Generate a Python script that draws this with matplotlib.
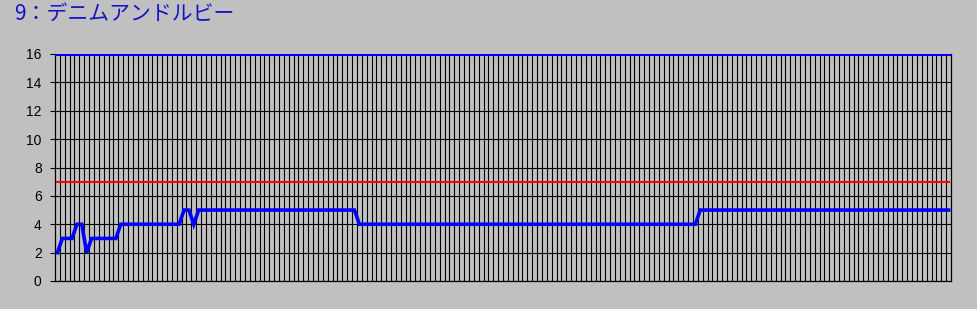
#!/usr/bin/env python
# Chart of the running position for horse 9 (デニムアンドルビー)
import numpy as np
import matplotlib.pyplot as plt

title = "9：デニムアンドルビー"

# position at each sample point
position = [
    2, 3, 3, 3, 4, 4, 2, 3, 3, 3, 3, 3, 3, 4, 4, 4, 4, 4, 4, 4,
    4, 4, 4, 4, 4, 4, 5, 5, 4, 5, 5, 5, 5, 5, 5, 5, 5, 5, 5, 5,
    5, 5, 5, 5, 5, 5, 5, 5, 5, 5, 5, 5, 5, 5, 5, 5, 5, 5, 5, 5,
    5, 5, 4, 4, 4, 4, 4, 4, 4, 4, 4, 4, 4, 4, 4, 4, 4, 4, 4, 4,
    4, 4, 4, 4, 4, 4, 4, 4, 4, 4, 4, 4, 4, 4, 4, 4, 4, 4, 4, 4,
    4, 4, 4, 4, 4, 4, 4, 4, 4, 4, 4, 4, 4, 4, 4, 4, 4, 4, 4, 4,
    4, 4, 4, 4, 4, 4, 4, 4, 4, 4, 4, 4, 5, 5, 5, 5, 5, 5, 5, 5,
    5, 5, 5, 5, 5, 5, 5, 5, 5, 5, 5, 5, 5, 5, 5, 5, 5, 5, 5, 5,
    5, 5, 5, 5, 5, 5, 5, 5, 5, 5, 5, 5, 5, 5, 5, 5, 5, 5, 5, 5,
    5, 5, 5, 5,
]
reference_level = 7  # red line
field_size = 16  # blue line at the top
y_ticks = [0, 2, 4, 6, 8, 10, 12, 14, 16]

bg = "#c0c0c0"


def main():
    n = len(position)
    x = np.arange(n)

    fig = plt.figure(figsize=(9.77, 3.09), dpi=100, facecolor=bg)
    ax = fig.add_axes([55 / 977, 28 / 309, 896 / 977, 227 / 309])
    ax.set_facecolor(bg)

    # vertical grid on category boundaries, horizontal grid on y ticks
    ax.set_xticks(np.arange(0.5, n - 1, 1.0))
    ax.tick_params(axis="x", length=0, labelbottom=False)
    ax.set_yticks(y_ticks)
    ax.grid(True, color="black", linewidth=0.8)
    ax.set_axisbelow(True)

    ax.plot(x, [reference_level] * n, color="#ff0000", linewidth=1.5, zorder=3)
    ax.axhline(field_size, color="#0000ff", linewidth=2.2, zorder=4)
    ax.plot(x, position, color="#0000ff", linewidth=2.6, zorder=5,
            solid_joinstyle="miter")

    ax.set_xlim(-0.5, n - 0.5)
    ax.set_ylim(0, 16)

    for side in ["left", "bottom", "right"]:
        ax.spines[side].set_color("black")
        ax.spines[side].set_linewidth(0.9)
    ax.spines["top"].set_visible(False)
    ax.tick_params(axis="y", length=3.6, width=0.8, pad=6.0,
                   labelsize=10, colors="black")
    for lbl in ax.get_yticklabels():
        lbl.set_family(["Liberation Sans", "DejaVu Sans"])

    fig.text(14 / 977, 1 - 14 / 309, title, color="#1414c8", fontsize=15,
             family=["Noto Sans CJK JP", "DejaVu Sans"], va="center", ha="left")

    plt.savefig("out.png", dpi=100, facecolor=bg)


if __name__ == "__main__":
    main()
